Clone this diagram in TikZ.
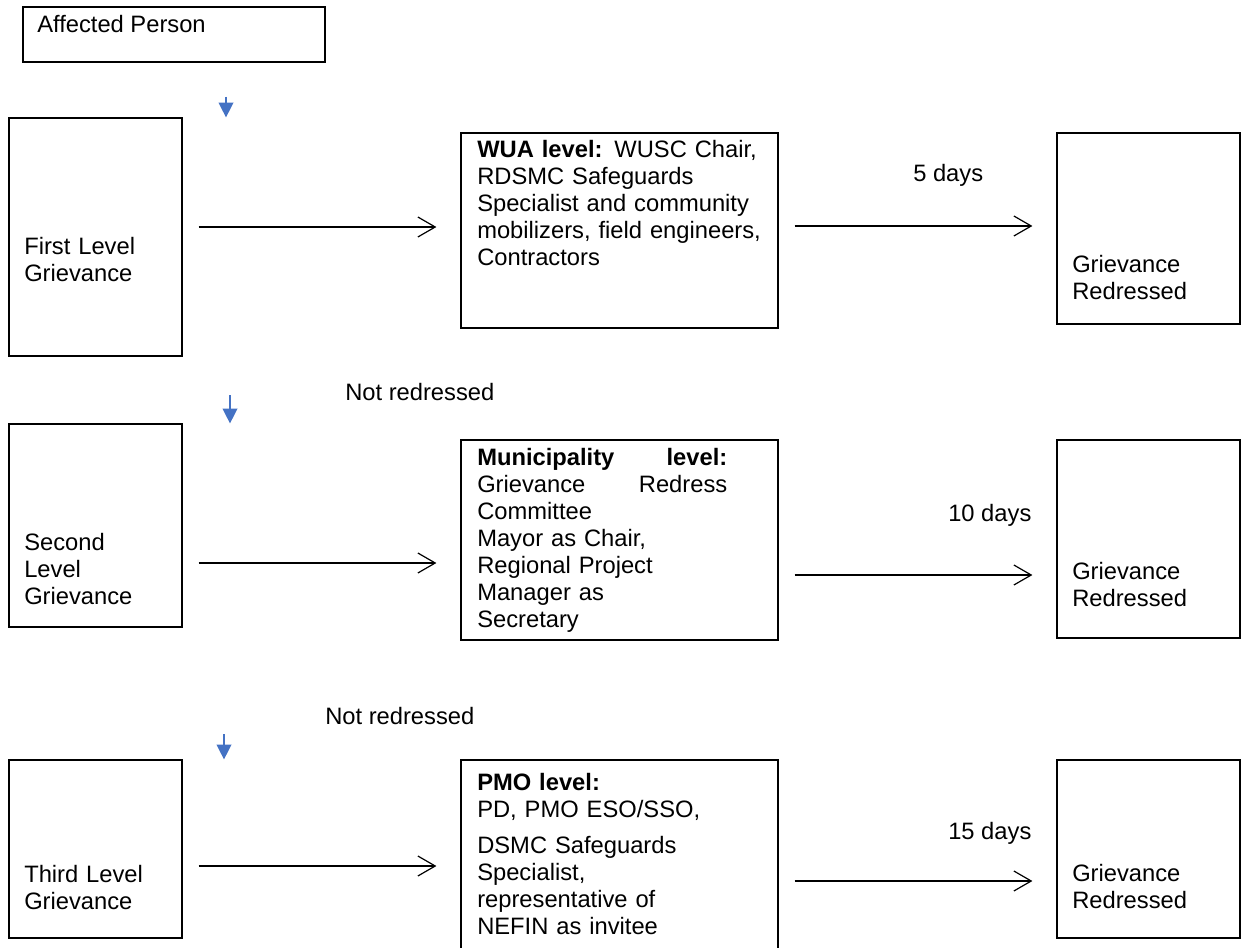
\documentclass[tikz,border=0pt]{standalone}
\usepackage{fontspec}
\setmainfont{Liberation Sans}
\definecolor{flowblue}{RGB}{68, 114, 196}
\usetikzlibrary{arrows.meta, positioning, calc}

\begin{document}
\begin{tikzpicture}[x=0.75pt, y=-0.75pt,
        every node/.style={font=\fontsize{17.8pt}{20.25pt}\selectfont, inner sep=0pt},
        box/.style={draw, line width=0.9pt, minimum width=237.75pt},
        side/.style={draw, line width=0.9pt, minimum width=129.75pt},
        done/.style={draw, line width=0.9pt, minimum width=137.25pt},
        txt/.style={anchor=base west, align=left, text width=#1},
        txt/.default=112pt,
        lbl/.style={anchor=base west},
        arr/.style={-{Straight Barb[length=13pt, width=15pt]}, line width=0.9pt,
            shorten <=12pt, shorten >=18pt},
        down/.style={-{Triangle[length=11pt, width=11pt]}, line width=1pt, draw=flowblue, fill=flowblue}
    ]
    \useasboundingbox (0,0) rectangle (1241,948);
    \clip (0,0) rectangle (1241,948);

    % Start
    \node[draw, line width=0.9pt, minimum width=226.5pt, minimum height=41.25pt] (aff) at (174, 34.5) {};
    \node[lbl] (affT) at (37, 33) {Affected Person};

    % First level
    \node[side, minimum height=178.5pt] (lvlA) at (95.5, 237) {};
    \node[box, minimum height=146.25pt] (wua) at (619.5, 230.5) {};
    \node[done, minimum height=143.25pt] (redA) at (1148.5, 228.5) {};
    \node[txt] (lvlAT) at (24, 255) {First Level\\Grievance};
    \node[txt=225pt] (wuaT) at (477, 158) {\textbf{WUA level:} WUSC Chair,\\RDSMC Safeguards\\Specialist and community\\mobilizers, field engineers,\\Contractors};
    \node[txt] (redAT) at (1072, 273) {Grievance\\Redressed};
    \node[lbl] (dayA) at (913, 182) {5 days};

    % Second level
    \node[side, minimum height=152.25pt] (lvlB) at (95.5, 525.5) {};
    \node[box, minimum height=150pt] (mun) at (619.5, 540) {};
    \node[done, minimum height=148.5pt] (redB) at (1148.5, 539) {};
    \node[lbl] (notA) at (345, 400) {Not redressed};
    \node[txt] (lvlBT) at (24, 550) {Second\\Level\\Grievance};
    \node[txt=187.5pt] (munT) at (477, 465) {\textbf{Municipality}\hfill\textbf{level:}\\Grievance\hfill Redress\\Committee\\Mayor as Chair,\\Regional Project\\Manager as\\Secretary};
    \node[txt] (redBT) at (1072, 579) {Grievance\\Redressed};
    \node[lbl] (dayB) at (948, 521) {10 days};

    % Third level
    \node[side, minimum height=133.5pt] (lvlC) at (95.5, 849) {};
    \node[box, minimum height=157.5pt] (pmo) at (619.5, 865) {};
    \node[done, minimum height=133.5pt] (redC) at (1148.5, 849) {};
    \node[lbl] (notB) at (325, 724) {Not redressed};
    \node[txt] (lvlCT) at (24, 882) {Third Level\\Grievance};
    \node[txt=225pt] (pmoT) at (477, 790) {\textbf{PMO level:}\\PD, PMO ESO/SSO,\\[6.75pt]DSMC Safeguards\\Specialist,\\representative of\\NEFIN as invitee};
    \node[txt] (redCT) at (1072, 881) {Grievance\\Redressed};
    \node[lbl] (dayC) at (948, 839) {15 days};

    % Downward arrows
    \coordinate (dA) at (226, 97);
    \coordinate (dB) at (230, 395);
    \coordinate (dC) at (224, 734);
    \draw[down] (dA) -- (dA |- lvlA.north);
    \draw[down] (dB) -- (dB |- lvlB.north);
    \draw[down] (dC) -- (dC |- lvlC.north);

    % Arrows
    \draw[arr] (lvlA.east |- 0,227) -- (wua.west |- 0,227);
    \draw[arr] (wua.east |- 0,226) -- (redA.west |- 0,226);
    \draw[arr] (lvlB.east |- 0,563) -- (mun.west |- 0,563);
    \draw[arr] (mun.east |- 0,575) -- (redB.west |- 0,575);
    \draw[arr] (lvlC.east |- 0,866) -- (pmo.west |- 0,866);
    \draw[arr] (pmo.east |- 0,881) -- (redC.west |- 0,881);
\end{tikzpicture}
\end{document}
